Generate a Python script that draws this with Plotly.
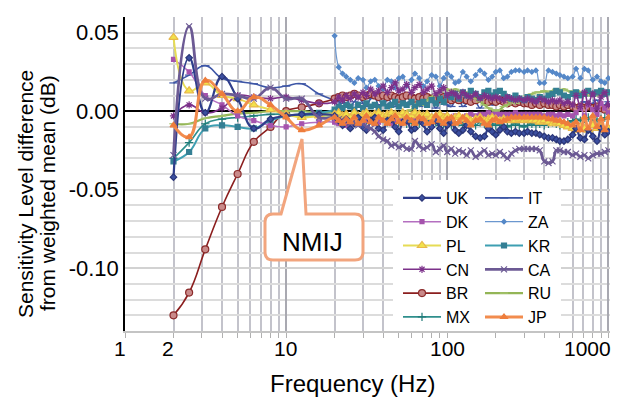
import plotly.graph_objects as go

# ---------------- data ----------------
freq_low = [2, 2.5, 3.15, 4, 5, 6.3, 8, 10, 12.5, 16]
freq_high = [20, 21.2, 22.4, 23.6, 25, 26.5, 28, 30, 31.5, 33.5,
             35.5, 37.5, 40, 42.5, 45, 47.5, 50, 53, 56, 60,
             63, 67, 71, 75, 80, 85, 90, 95, 100, 106,
             112, 118, 125, 132, 140, 150, 160, 170, 180, 190,
             200, 212, 224, 236, 250, 265, 280, 300, 315, 335,
             355, 375, 400, 425, 450, 475, 500, 530, 560, 600,
             630, 670, 710, 750, 800, 850, 900, 950, 1000]
freq = freq_low + freq_high

uk = [-0.042, 0.034, -0.001, 0.022, 0.008, -0.011, -0.005, -0.003, -0.002, -0.002,
      -0.003, -0.006, -0.009, -0.005, -0.011, -0.008, -0.004, -0.010, -0.012, -0.006,
      -0.004, -0.011, -0.012, -0.006, -0.005, -0.010, -0.013, -0.007, -0.006, -0.012,
      -0.011, -0.005, -0.008, -0.013, -0.010, -0.006, -0.011, -0.014, -0.009, -0.007,
      -0.012, -0.014, -0.012, -0.009, -0.013, -0.016, -0.017, -0.016, -0.011, -0.013,
      -0.015, -0.012, -0.010, -0.013, -0.014, -0.013, -0.014, -0.014, -0.013, -0.014,
      -0.014, -0.015, -0.016, -0.017, -0.017, -0.018, -0.019, -0.019, -0.018, -0.015,
      -0.011, -0.017, -0.018, -0.012, -0.016, -0.019, -0.011, -0.015, -0.013]
dk = [0.033, 0.025, 0.010, 0.004, -0.003, -0.006, -0.009, -0.010, -0.008, -0.007,
      -0.007, -0.008, -0.006, -0.009, -0.007, -0.006, -0.008, -0.009, -0.006, -0.005,
      -0.008, -0.007, -0.005, -0.006, -0.008, -0.006, -0.004, -0.006, -0.007, -0.005,
      -0.004, -0.006, -0.005, -0.003, -0.005, -0.006, -0.004, -0.003, -0.005, -0.004,
      -0.003, -0.004, -0.005, -0.003, -0.002, -0.003, -0.002, -0.002, -0.001, -0.002,
      -0.002, -0.002, -0.002, -0.002, -0.002, -0.001, -0.002, -0.002, -0.002, -0.002,
      -0.002, -0.002, -0.003, -0.002, -0.002, -0.003, -0.002, -0.003, -0.002, -0.003,
      -0.001, 0.002, -0.003, 0.004, 0.001, -0.002, 0.005, 0.002, -0.001]
pl = [0.047, 0.013, 0.018, 0.010, 0.008, 0.004, 0.001, -0.002, -0.004, -0.003,
      -0.002, -0.001, -0.003, -0.002, -0.004, -0.001, -0.003, -0.002, -0.001, -0.003,
      -0.002, -0.001, -0.003, -0.002, -0.001, -0.002, -0.003, -0.001, -0.002, -0.003,
      -0.001, -0.002, -0.003, -0.002, -0.004, -0.003, -0.002, -0.004, -0.003, -0.005,
      -0.004, -0.003, -0.005, -0.004, -0.006, -0.005, -0.004, -0.006, -0.005, -0.004,
      -0.005, -0.006, -0.005, -0.006, -0.005, -0.006, -0.005, -0.006, -0.005, -0.006,
      -0.006, -0.007, -0.006, -0.007, -0.008, -0.007, -0.008, -0.009, -0.010, -0.011,
      -0.012, -0.010, -0.011, -0.012, -0.009, -0.011, -0.010, -0.012, -0.011]
cn = [-0.003, 0.004, -0.001, 0.002, 0.010, 0.009, 0.008, 0.009, 0.007, 0.005,
      0.006, 0.009, 0.007, 0.010, 0.008, 0.011, 0.009, 0.012, 0.010, 0.014,
      0.011, 0.013, 0.016, 0.012, 0.015, 0.018, 0.013, 0.014, 0.017, 0.012,
      0.015, 0.017, 0.012, 0.014, 0.016, 0.011, 0.013, 0.015, 0.010, 0.012,
      0.011, 0.009, 0.012, 0.010, 0.009, 0.011, 0.008, 0.010, 0.009, 0.008,
      0.009, 0.008, 0.007, 0.009, 0.008, 0.007, 0.008, 0.007, 0.008, 0.007,
      0.006, 0.008, 0.007, 0.006, 0.007, 0.006, 0.007, 0.005, 0.006, 0.004,
      0.010, 0.003, 0.012, 0.005, 0.011, 0.002, 0.009, 0.012, 0.004]
br = [-0.130, -0.1155, -0.088, -0.061, -0.040, -0.0195, -0.010, 0.000, 0.0025, 0.005,
      0.008, 0.009, 0.010, 0.009, 0.010, 0.011, 0.010, 0.009, 0.010, 0.011,
      0.010, 0.009, 0.010, 0.009, 0.010, 0.009, 0.008, 0.009, 0.010, 0.009,
      0.008, 0.009, 0.008, 0.009, 0.008, 0.007, 0.008, 0.009, 0.008, 0.007,
      0.008, 0.007, 0.008, 0.007, 0.006, 0.007, 0.008, 0.007, 0.006, 0.007,
      0.006, 0.007, 0.006, 0.005, 0.006, 0.005, 0.006, 0.005, 0.005, 0.004,
      0.005, 0.004, 0.005, 0.004, 0.004, 0.003, 0.004, 0.003, 0.004, 0.003,
      0.002, 0.003, 0.002, 0.003, 0.002, 0.003, 0.002, 0.001, 0.002]
mx = [-0.030, -0.020, -0.008, -0.005, -0.004, -0.003, -0.002, -0.002, -0.003, -0.003,
      -0.003, -0.004, -0.003, -0.005, -0.004, -0.003, -0.005, -0.004, -0.006, -0.005,
      -0.004, -0.006, -0.005, -0.007, -0.006, -0.005, -0.007, -0.006, -0.008, -0.007,
      -0.006, -0.008, -0.007, -0.006, -0.008, -0.007, -0.009, -0.008, -0.007, -0.009,
      -0.008, -0.007, -0.009, -0.008, -0.008, -0.009, -0.007, -0.008, -0.009, -0.008,
      -0.009, -0.008, -0.009, -0.010, -0.009, -0.008, -0.009, -0.010, -0.009, -0.008,
      -0.009, -0.008, -0.009, -0.008, -0.007, -0.008, -0.009, -0.008, -0.007, -0.006,
      -0.005, -0.006, -0.005, -0.004, -0.005, -0.006, -0.005, -0.004, -0.005]
it = [0.018, 0.023, 0.029, 0.021, 0.019, 0.0175, 0.015, 0.016, 0.0175, 0.011,
      0.007, 0.006, 0.005, 0.008, 0.004, 0.006, 0.009, 0.005, 0.003, 0.008,
      0.009, 0.004, 0.006, 0.009, 0.005, 0.003, 0.008, 0.009, 0.004, 0.006,
      0.008, 0.003, 0.005, 0.009, 0.007, 0.002, 0.006, 0.008, 0.004, 0.003,
      0.007, 0.008, 0.003, 0.005, 0.008, 0.006, 0.002, 0.006, 0.007, 0.004,
      0.005, 0.007, 0.006, 0.004, 0.006, 0.007, 0.005, 0.004, 0.005, 0.006,
      0.005, 0.004, 0.006, 0.005, 0.003, 0.004, 0.005, 0.004, 0.002, 0.003,
      0.001, 0.004, 0.006, 0.002, 0.005, 0.007, 0.001, 0.004, 0.006]
za = [None, None, None, None, None, None, None, None, None, None,
      0.048, 0.028, 0.024, 0.022, 0.020, 0.018, 0.021, 0.020, 0.015, 0.019,
      0.020, 0.016, 0.014, 0.020, 0.019, 0.015, 0.021, 0.022, 0.016, 0.020,
      0.024, 0.021, 0.016, 0.019, 0.023, 0.022, 0.016, 0.021, 0.024, 0.022,
      0.018, 0.019, 0.025, 0.022, 0.019, 0.023, 0.026, 0.024, 0.020, 0.022,
      0.025, 0.026, 0.021, 0.022, 0.025, 0.026, 0.026, 0.025, 0.026, 0.025,
      0.026, 0.018, 0.018, 0.026, 0.025, 0.024, 0.023, 0.022, 0.021, 0.022,
      0.027, 0.021, 0.027, 0.026, 0.020, 0.022, 0.019, 0.018, 0.021]
kr = [-0.032, -0.026, -0.011, -0.009, -0.010, -0.011, -0.006, -0.003, -0.002, -0.001,
      0.001, 0.003, 0.002, 0.004, 0.003, 0.001, 0.004, 0.002, 0.005, 0.003,
      0.004, 0.002, 0.005, 0.003, 0.004, 0.006, 0.003, 0.005, 0.004, 0.006,
      0.003, 0.005, 0.006, 0.004, 0.007, 0.005, 0.008, 0.006, 0.010, 0.009,
      0.011, 0.008, 0.012, 0.010, 0.013, 0.011, 0.009, 0.012, 0.013, 0.010,
      0.012, 0.013, 0.011, 0.009, 0.008, 0.010, 0.008, 0.007, 0.009, 0.008,
      0.007, 0.009, 0.008, 0.010, 0.011, 0.013, 0.012, 0.010, 0.009, 0.011,
      0.012, 0.010, 0.011, 0.013, 0.011, 0.012, 0.013, 0.011, 0.012]
ca = [-0.028, 0.054, 0.008, 0.011, 0.010, 0.008, 0.015, 0.008, 0.008, -0.004,
      -0.004, -0.005, -0.007, -0.006, -0.008, -0.007, -0.009, -0.008, -0.010, -0.011,
      -0.013, -0.016, -0.018, -0.019, -0.022, -0.021, -0.023, -0.022, -0.024, -0.024,
      -0.019, -0.022, -0.024, -0.023, -0.021, -0.026, -0.024, -0.022, -0.026, -0.024,
      -0.027, -0.025, -0.026, -0.028, -0.025, -0.029, -0.027, -0.025, -0.028, -0.027,
      -0.028, -0.026, -0.028, -0.030, -0.027, -0.025, -0.024, -0.024, -0.024, -0.024,
      -0.024, -0.025, -0.032, -0.033, -0.032, -0.025, -0.025, -0.026, -0.026, -0.028,
      -0.027, -0.029, -0.028, -0.030, -0.028, -0.027, -0.027, -0.026, -0.025]
ru = [-0.008, -0.008, -0.0045, -0.003, -0.0015, -0.001, 0.000, 0.000, 0.000, -0.001,
      -0.001, -0.002, -0.003, -0.004, -0.005, -0.004, -0.006, -0.005, -0.006, -0.007,
      -0.006, -0.007, -0.005, -0.006, -0.004, -0.005, -0.003, -0.002, 0.000, 0.001,
      0.003, 0.005, 0.004, 0.007, 0.009, 0.010, 0.012, 0.014, 0.014, 0.013,
      0.014, 0.013, 0.011, 0.012, 0.010, 0.008, 0.006, 0.004, 0.002, 0.001,
      0.000, 0.001, 0.003, 0.004, 0.006, 0.005, 0.007, 0.008, 0.010, 0.011,
      0.012, 0.012, 0.013, 0.012, 0.013, 0.014, 0.013, 0.014, 0.013, 0.012,
      0.013, 0.012, 0.011, 0.010, 0.011, 0.010, 0.011, 0.012, 0.011]
jp = [-0.009, -0.0165, 0.0195, 0.011, 0.000, 0.009, 0.004, -0.004, -0.012, -0.009,
      -0.004, -0.006, -0.008, -0.005, -0.007, -0.004, -0.008, -0.006, -0.003, -0.007,
      -0.008, -0.004, -0.006, -0.008, -0.005, -0.003, -0.007, -0.008, -0.004, -0.006,
      -0.008, -0.004, -0.005, -0.008, -0.007, -0.003, -0.006, -0.008, -0.005, -0.004,
      -0.008, -0.007, -0.004, -0.006, -0.009, -0.006, -0.005, -0.008, -0.009, -0.006,
      -0.005, -0.007, -0.006, -0.005, -0.004, -0.004, -0.004, -0.004, -0.004, -0.004,
      -0.004, -0.004, -0.004, -0.005, -0.005, -0.006, -0.006, -0.007, -0.008, -0.009,
      -0.007, -0.012, -0.004, -0.011, -0.003, -0.010, -0.005, -0.012, -0.004]

x_tick_labels = ["1", "2", "10", "100", "1000"]
y_tick_vals = [-0.10, -0.05, 0.00, 0.05]
y_tick_text = ["-0.10", "-0.05", "0.00", "0.05"]

# ---------------- styles ----------------
FONT = "Liberation Sans, Arial, sans-serif"
L, R, T, B = 125, 8, 17, 68
FIG_W, FIG_H = 618, 399
W = FIG_W - L - R
H = FIG_H - T - B


def xp(px):
    return (px - L) / W


def yp(py):
    return (FIG_H - B - py) / H


# name, values, legend, rank, line color, width, symbol, size, marker fill, marker edge
series = [
    ("ZA", za, "legend2", 2, "#6b97cf", 1.2, "diamond", 3.5, "#5588c8", "#5588c8"),
    ("IT", it, "legend2", 1, "#3d56a6", 1.6, "line-ew-open", 6, "#3d56a6", "#3d56a6"),
    ("BR", br, "legend", 5, "#8b1e1e", 1.6, "circle", 7, "#c98a8a", "#8b2a2a"),
    ("MX", mx, "legend", 6, "#2f8f8c", 1.6, "cross-thin-open", 6, "#1f7a78", "#1f7a78"),
    ("RU", ru, "legend2", 5, "#93b556", 2.2, "line-ew-open", 6, "#a7c46e", "#a7c46e"),
    ("KR", kr, "legend2", 3, "#3e9fb2", 2.0, "square", 5, "#347f94", "#347f94"),
    ("DK", dk, "legend", 2, "#b46fc0", 1.6, "square", 4, "#a553ad", "#a553ad"),
    ("CN", cn, "legend", 4, "#7c318a", 1.6, "asterisk-open", 6, "#7c318a", "#7c318a"),
    ("PL", pl, "legend", 3, "#e6dc55", 2.0, "triangle-up", 8, "#f2e24a", "#e8b84a"),
    ("UK", uk, "legend", 1, "#2f3e8c", 2.2, "diamond", 5, "#3b4fa0", "#2a3577"),
    ("CA", ca, "legend2", 4, "#6c5a94", 2.8, "x-thin-open", 6, "#6c5a94", "#6c5a94"),
    ("JP", jp, "legend2", 6, "#f28c4e", 3.0, "triangle-up", 6, "#ee7d3c", "#ee7d3c"),
]

fig = go.Figure()
for name, vals, leg, rank, lc, lw, sym, ms, mfill, medge in series:
    fig.add_trace(go.Scatter(
        x=freq, y=vals, name=name, mode="lines+markers",
        legend=leg, legendrank=rank,
        line=dict(color=lc, width=lw, shape="spline", smoothing=1.3),
        marker=dict(symbol=sym, size=ms, color=mfill,
                    line=dict(color=medge, width=1.2)),
        connectgaps=False,
    ))

minor_x = [v * m for m in (1, 10, 100) for v in range(2, 10)]
minor_y = [round(-0.14 + 0.01 * k, 2) for k in range(21)]

fig.update_layout(
    width=FIG_W, height=FIG_H,
    margin=dict(l=L, r=R, t=T, b=B, pad=0),
    paper_bgcolor="white", plot_bgcolor="white",
    font=dict(family=FONT, size=21, color="black"),
    xaxis=dict(
        type="log", range=[0, 3.01],
        tickmode="array", tickvals=[1, 10, 100, 1000],
        showticklabels=False,
        showgrid=True, gridcolor="#a9a9b1", gridwidth=2,
        ticks="outside", ticklen=5, tickcolor="#b0b0b0",
        showline=True, linecolor="#c4c4c4", linewidth=1.5,
        zeroline=False,
        minor=dict(tickmode="array", tickvals=minor_x, showgrid=True,
                   gridcolor="#c3c3cb", gridwidth=2,
                   ticks="outside", ticklen=5, tickcolor="#b0b0b0"),
    ),
    yaxis=dict(
        range=[-0.14, 0.06],
        tickmode="array", tickvals=y_tick_vals, ticktext=y_tick_text,
        tickfont=dict(size=22),
        showgrid=True, gridcolor="#d2d2d2", gridwidth=1.5,
        ticks="", ticklabelstandoff=0,
        showline=True, linecolor="black", linewidth=1.5,
        zeroline=True, zerolinecolor="black", zerolinewidth=1.5,
        minor=dict(tickmode="array", tickvals=minor_y, showgrid=True,
                   gridcolor="#dcdcdc", gridwidth=1.5),
    ),
    legend=dict(x=xp(398), y=yp(181), xanchor="left", yanchor="top",
                bgcolor="rgba(0,0,0,0)", itemwidth=38,
                font=dict(size=16, family=FONT), traceorder="normal",
                itemclick=False),
    legend2=dict(x=xp(480), y=yp(181), xanchor="left", yanchor="top",
                 bgcolor="rgba(0,0,0,0)", itemwidth=38,
                 font=dict(size=16, family=FONT), traceorder="normal",
                 itemclick=False),
    showlegend=True,
)

# white legend panel
fig.add_shape(type="rect", xref="paper", yref="paper",
              x0=xp(393), x1=xp(561), y0=yp(331), y1=yp(180),
              fillcolor="white", line=dict(width=0), layer="above")

# callout for NMIJ
pts = [("M", 281, 214), ("L", 302, 139), ("L", 306, 214), ("L", 355, 214),
       ("Q", 363, 214, 363, 222), ("L", 363, 252), ("Q", 363, 260, 355, 260),
       ("L", 273, 260), ("Q", 265, 260, 265, 252), ("L", 265, 222),
       ("Q", 265, 214, 273, 214)]
path = ""
for p in pts:
    cmd = p[0]
    coords = p[1:]
    segs = []
    for i in range(0, len(coords), 2):
        segs.append(f"{xp(coords[i]):.5f},{yp(coords[i + 1]):.5f}")
    path += cmd + " ".join(segs) + " "
path += "Z"
fig.add_shape(type="path", xref="paper", yref="paper", path=path,
              fillcolor="white", line=dict(color="#f2a57e", width=3),
              layer="above")
fig.add_annotation(text="NMIJ", xref="paper", yref="paper",
                   x=xp(312), y=yp(242), showarrow=False,
                   font=dict(size=26, family=FONT, color="black"),
                   xanchor="center", yanchor="middle")

# x tick labels
x_label_px = [120, 168, 285, 447, 587]
for lab, px in zip(x_tick_labels, x_label_px):
    fig.add_annotation(text=lab, xref="paper", yref="paper",
                       x=xp(px), y=yp(348), showarrow=False,
                       font=dict(size=21, family=FONT),
                       xanchor="center", yanchor="middle")

# axis titles
fig.add_annotation(text="Frequency (Hz)", xref="paper", yref="paper",
                   x=xp(352), y=yp(383), showarrow=False,
                   font=dict(size=24, family=FONT),
                   xanchor="center", yanchor="middle")
fig.add_annotation(text="Sensitivity Level difference", xref="paper", yref="paper",
                   x=xp(25), y=yp(194), showarrow=False, textangle=-90,
                   font=dict(size=21, family=FONT),
                   xanchor="center", yanchor="middle")
fig.add_annotation(text="from weighted mean (dB)", xref="paper", yref="paper",
                   x=xp(47), y=yp(193), showarrow=False, textangle=-90,
                   font=dict(size=21, family=FONT),
                   xanchor="center", yanchor="middle")

fig.write_html("out.html", config={"displayModeBar": False},
               post_script="document.body.style.margin='0px';")
